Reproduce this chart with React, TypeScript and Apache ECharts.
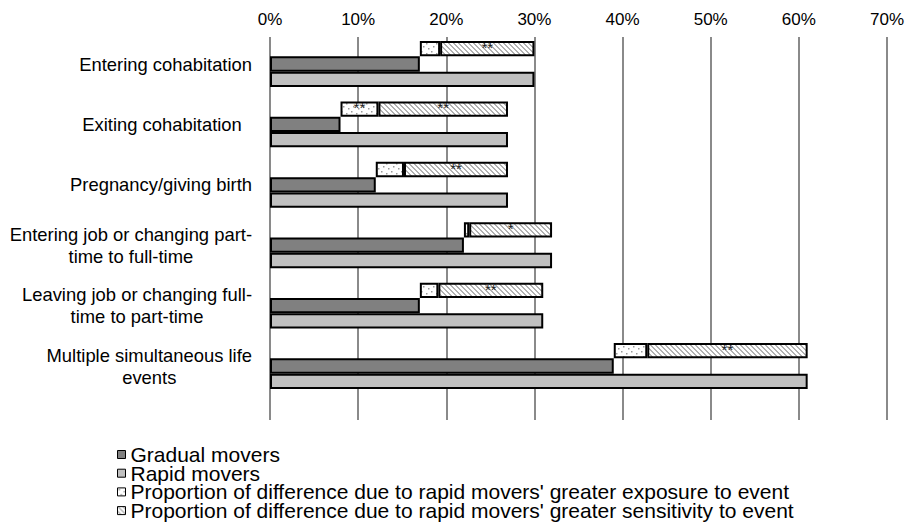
import React, { useEffect, useRef } from 'react';
import * as echarts from 'echarts';

const categories = [
  'Entering cohabitation',
  'Exiting cohabitation  ',
  'Pregnancy/giving birth',
  'Entering job or changing part-\ntime to full-time',
  'Leaving job or changing full-\ntime to part-time',
  'Multiple simultaneous life\nevents',
];
const gradualMovers = [17, 8, 12, 22, 17, 39];
const rapidMovers = [30, 27, 27, 32, 31, 61];
const exposureShare = [2.3, 4.3, 3.2, 0.6, 2.1, 3.8];
const sensitivityShare = [10.7, 14.7, 11.8, 9.4, 11.9, 18.2];
const exposureSig = ['', '**', '', '', '', ''];
const sensitivitySig = ['**', '**', '**', '*', '**', '**'];
const xTickLabels = ['0%', '10%', '20%', '30%', '40%', '50%', '60%', '70%'];
const seriesNames = [
  'Gradual movers',
  'Rapid movers',
  "Proportion of difference due to rapid movers' greater exposure to event",
  "Proportion of difference due to rapid movers' greater sensitivity to event",
];

const FONT = '"Liberation Sans", Arial, sans-serif';

function makeHatch(): HTMLCanvasElement {
  const s = 5;
  const c = document.createElement('canvas');
  c.width = s;
  c.height = s;
  const ctx = c.getContext('2d')!;
  const img = ctx.createImageData(s, s);
  for (let y = 0; y < s; y++) {
    for (let x = 0; x < s; x++) {
      const d = (((x - y) % s) + s) % s;
      const v = d < 2 ? 178 : 255;
      const i = (y * s + x) * 4;
      img.data[i] = v;
      img.data[i + 1] = v;
      img.data[i + 2] = v;
      img.data[i + 3] = 255;
    }
  }
  ctx.putImageData(img, 0, 0);
  return c;
}

function makeDots(): HTMLCanvasElement {
  const s = 10;
  const c = document.createElement('canvas');
  c.width = s;
  c.height = s;
  const ctx = c.getContext('2d')!;
  ctx.fillStyle = '#ffffff';
  ctx.fillRect(0, 0, s, s);
  ctx.fillStyle = '#9a9a9a';
  const pts = [
    [1, 1],
    [6, 3],
    [3, 6],
    [8, 8],
  ];
  pts.forEach(([x, y]) => ctx.fillRect(x, y, 1.5, 1.5));
  return c;
}

export default function App() {
  const ref = useRef<HTMLDivElement>(null);
  useEffect(() => {
    if (!ref.current) return;
    const chart = echarts.init(ref.current, undefined, { renderer: 'svg' });
    const hatch = { image: makeHatch(), repeat: 'repeat' };
    const dots = { image: makeDots(), repeat: 'repeat' };
    const barW = 15.3;
    const border = { borderColor: '#000', borderWidth: 2 };
    const sigLabel = (arr: string[]) => ({
      show: true,
      position: 'insideTop',
      distance: -1,
      fontSize: 15,
      color: '#222',
      fontFamily: FONT,
      formatter: (p: any) => arr[p.dataIndex],
    });
    const option: any = {
      animation: false,
      backgroundColor: '#fff',
      grid: [
        { left: 270, right: 22, top: 37, bottom: 111 },
        { left: 270, right: 22, top: 33.8, bottom: 134.8 },
      ],
      xAxis: [
        {
          gridIndex: 0,
          type: 'value',
          position: 'top',
          min: 0,
          max: 70,
          interval: 10,
          axisLine: { show: false },
          axisTick: { show: false },
          axisLabel: {
            margin: 9,
            fontSize: 17,
            color: '#000',
            fontFamily: FONT,
            formatter: (v: number) => xTickLabels[Math.round(v / 10)],
          },
          splitLine: { show: true, lineStyle: { color: '#8a8a8a', width: 2 } },
        },
        { gridIndex: 1, type: 'value', min: 0, max: 70, show: false },
      ],
      yAxis: [
        { gridIndex: 0, type: 'value', show: false, min: 0, max: 1 },
        {
          gridIndex: 1,
          type: 'category',
          inverse: true,
          data: categories,
          axisLine: { show: false },
          axisTick: { show: false },
          axisLabel: {
            margin: 18,
            align: 'right',
            formatter: (v: string) =>
              v
                .split('\n')
                .map((l) => `{c|${l}}`)
                .join('\n'),
            rich: {
              c: { align: 'center', fontSize: 18.4, fontFamily: FONT, color: '#000', lineHeight: 22 },
            },
          },
        },
      ],
      legend: {
        data: seriesNames,
        orient: 'vertical',
        left: 117,
        top: 444,
        height: 120,
        padding: 0,
        itemWidth: 8,
        itemHeight: 8,
        itemGap: -2.3,
        icon: 'rect',
        selectedMode: false,
        itemStyle: { borderWidth: 1, borderColor: '#000' },
        textStyle: { fontSize: 21, color: '#000', fontFamily: FONT, lineHeight: 18.3 },
      },
      series: [
        {
          name: 'base',
          type: 'bar',
          xAxisIndex: 1,
          yAxisIndex: 1,
          stack: 'diff',
          barWidth: barW,
          barGap: '0%',
          silent: true,
          data: gradualMovers,
          itemStyle: { color: 'rgba(0,0,0,0)', borderWidth: 0 },
        },
        {
          name: seriesNames[2],
          type: 'bar',
          xAxisIndex: 1,
          yAxisIndex: 1,
          stack: 'diff',
          barWidth: barW,
          barGap: '0%',
          data: exposureShare,
          itemStyle: { color: dots, ...border },
          label: sigLabel(exposureSig),
        },
        {
          name: seriesNames[3],
          type: 'bar',
          xAxisIndex: 1,
          yAxisIndex: 1,
          stack: 'diff',
          barWidth: barW,
          barGap: '0%',
          data: sensitivityShare,
          itemStyle: { color: hatch, ...border },
          label: sigLabel(sensitivitySig),
        },
        {
          name: seriesNames[0],
          type: 'bar',
          xAxisIndex: 1,
          yAxisIndex: 1,
          barWidth: barW,
          barGap: '0%',
          data: gradualMovers,
          itemStyle: { color: '#808080', ...border },
        },
        {
          name: seriesNames[1],
          type: 'bar',
          xAxisIndex: 1,
          yAxisIndex: 1,
          barWidth: barW,
          barGap: '0%',
          data: rapidMovers,
          itemStyle: { color: '#c0c0c0', ...border },
        },
      ],
    };
    chart.setOption(option);
    return () => chart.dispose();
  }, []);
  return (
    <div
      ref={ref}
      style={{ position: 'fixed', left: 0, top: 0, width: 909, height: 531, background: '#fff' }}
    />
  );
}
